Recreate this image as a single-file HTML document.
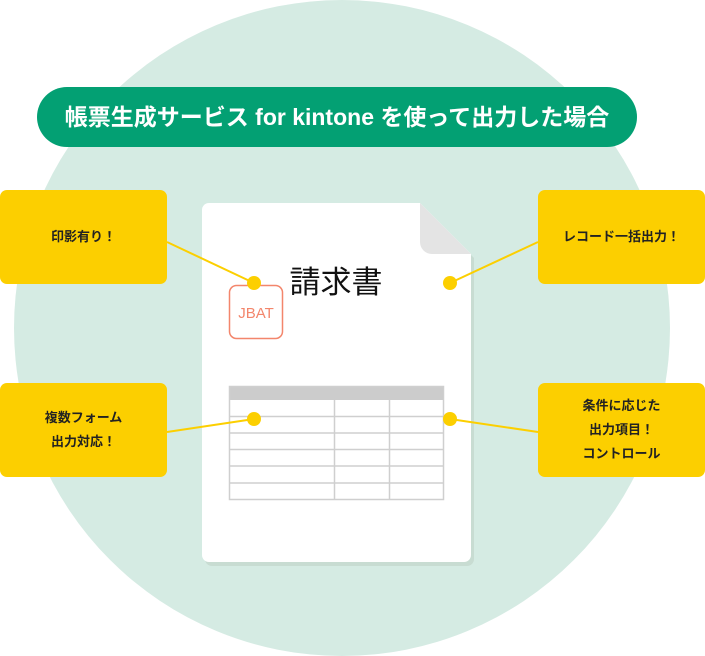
<!DOCTYPE html>
<html><head><meta charset="utf-8"><style>
body{margin:0;width:705px;height:656px;overflow:hidden;background:#fff;font-family:"Liberation Sans","Noto Sans CJK JP",sans-serif;position:relative}
.a{position:absolute}
.box{position:absolute;background:#fccf00;border-radius:7px;width:167px;height:94px;display:flex;align-items:center;justify-content:center;text-align:center;font-size:13px;line-height:24px;color:#222;font-weight:bold}
</style></head><body>
<div class="a" style="left:14px;top:0;width:656px;height:656px;border-radius:50%;background:#d5ebe3"></div>
<div class="a" style="left:37px;top:87px;width:600px;height:60px;border-radius:30px;background:#03a073;color:#fff;font-size:23px;line-height:60px;text-align:center;font-weight:bold">帳票生成サービス for kintone を使って出力した場合</div>
<svg class="a" style="left:0;top:0" width="705" height="656">
<path transform="translate(3,4)" d="M209 203 H420 L471 254 V555 a7 7 0 0 1 -7 7 H209 a7 7 0 0 1 -7 -7 V210 a7 7 0 0 1 7 -7Z" fill="#c8dcd2"/>
<path d="M209 203 H420 L471 254 V555 a7 7 0 0 1 -7 7 H209 a7 7 0 0 1 -7 -7 V210 a7 7 0 0 1 7 -7Z" fill="#fff"/>
<path d="M420 203 L471 254 H432 a12 12 0 0 1 -12 -12Z" fill="#e4e4e4"/>
<rect x="229.5" y="285.5" width="53" height="53" rx="7" fill="none" stroke="#f3866c" stroke-width="1.5"/>
<text x="256" y="318" font-size="15" fill="#f3866c" text-anchor="middle" font-family="Liberation Sans">JBAT</text>
<text x="336" y="293" font-size="31" fill="#111" text-anchor="middle" font-family="Liberation Sans,Noto Sans CJK JP,sans-serif">請求書</text>
<rect x="229" y="386" width="215" height="14" fill="#cccccc"/>
<g stroke="#cfcfcf" stroke-width="1.5" fill="none">
<rect x="229.5" y="386.5" width="214" height="113"/>
<line x1="229" y1="416.5" x2="444" y2="416.5"/><line x1="229" y1="433" x2="444" y2="433"/><line x1="229" y1="449.5" x2="444" y2="449.5"/><line x1="229" y1="466" x2="444" y2="466"/><line x1="229" y1="483" x2="444" y2="483"/>
<line x1="334.5" y1="400" x2="334.5" y2="500"/><line x1="389.5" y1="400" x2="389.5" y2="500"/>
</g>
<g stroke="#fccf00" stroke-width="2">
<line x1="167" y1="242" x2="254" y2="283"/><line x1="538" y1="242" x2="450" y2="283"/>
<line x1="167" y1="432" x2="254" y2="419"/><line x1="538" y1="432" x2="450" y2="419"/>
</g>
<g fill="#fccf00"><circle cx="254" cy="283" r="7"/><circle cx="450" cy="283" r="7"/><circle cx="254" cy="419" r="7"/><circle cx="450" cy="419" r="7"/></g>
</svg>
<div class="box" style="left:0;top:190px">印影有り！</div>
<div class="box" style="left:538px;top:190px">レコード一括出力！</div>
<div class="box" style="left:0;top:383px">複数フォーム<br>出力対応！</div>
<div class="box" style="left:538px;top:383px">条件に応じた<br>出力項目！<br>コントロール</div>
</body></html>
